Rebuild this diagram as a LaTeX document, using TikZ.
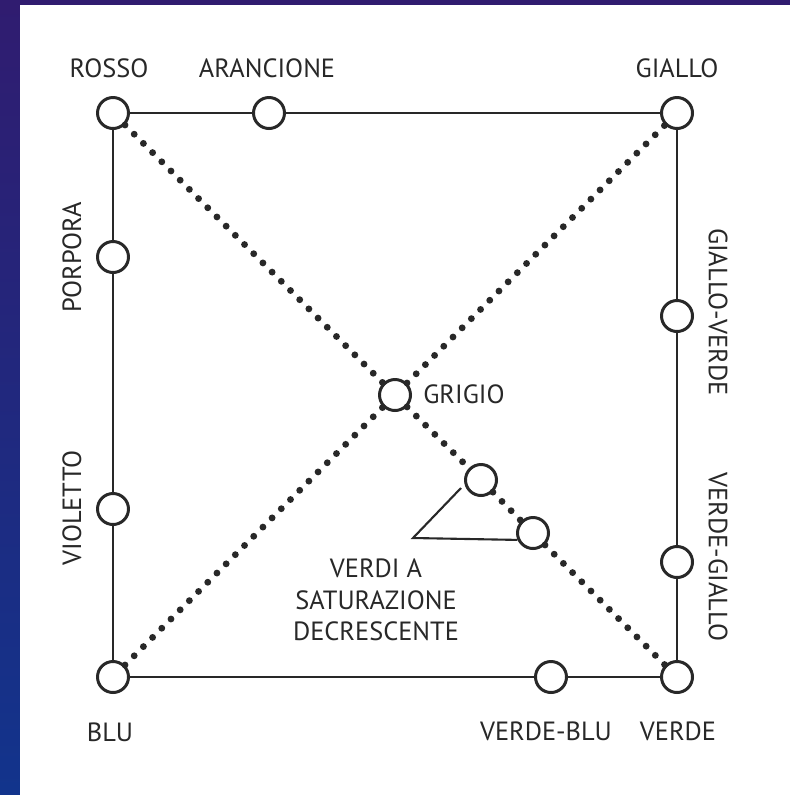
\documentclass[tikz,border=0pt]{standalone}
\usepackage{fontspec}
\setmainfont{PT Sans}
\usetikzlibrary{positioning,calc}
\definecolor{InkGray}{RGB}{40,40,40}
\definecolor{EdgePurple}{RGB}{48,28,112}
\definecolor{EdgeBlue}{RGB}{18,52,140}

\begin{document}
\begin{tikzpicture}[x=0.02cm, y=-0.02cm,
    hue/.style={circle, draw=InkGray, fill=white, line width=1.7pt,
                minimum size=0.62cm, inner sep=0pt},
    side/.style={draw=InkGray, line width=1.4pt},
    dotline/.style={draw=InkGray, line width=3.9pt, line cap=round,
                    dash pattern=on 0pt off 7.4pt},
    leader/.style={draw=InkGray, line width=1.2pt},
    lab/.style={text=InkGray, font=\fontsize{15}{18}\selectfont, inner sep=0pt},
    labrow/.style={lab, align=center, font=\fontsize{15}{18}\selectfont}
]
    % frame
    \shade[top color=EdgePurple, bottom color=EdgeBlue] (0,0) rectangle (790,795);
    \fill[white] (20,5) rectangle (790,795);

    % colour points
    \node[hue] (rosso) at (113,113) {};
    \node[hue] (arancione) at (269,113) {};
    \node[hue] (giallo) at (677,113) {};
    \node[hue] (porpora) at (113,257) {};
    \node[hue] (violetto) at (113,509) {};
    \node[hue] (gialloverde) at (677,316) {};
    \node[hue] (verdegiallo) at (677,562) {};
    \node[hue] (blu) at (113,677) {};
    \node[hue] (verdeblu) at (551,677) {};
    \node[hue] (verde) at (677,677) {};
    \node[hue] (grigio) at (395,395) {};
    \node[hue] (verdiA) at (481,480) {};
    \node[hue] (verdiB) at (533,533) {};

    % square sides
    \draw[side] (rosso) -- (arancione) -- (giallo);
    \draw[side] (giallo) -- (gialloverde) -- (verdegiallo) -- (verde);
    \draw[side] (blu) -- (verdeblu) -- (verde);
    \draw[side] (rosso) -- (porpora) -- (violetto) -- (blu);

    % diagonals
    \draw[dotline] (rosso) -- (grigio);
    \draw[dotline] (grigio) -- (verdiA);
    \draw[dotline] (verdiA) -- (verdiB);
    \draw[dotline] (verdiB) -- (verde);
    \draw[dotline] (blu) -- (grigio);
    \draw[dotline] (grigio) -- (giallo);

    % leader to the greens
    \coordinate (leadtop) at (461,488);
    \coordinate (leadknee) at (413,538);
    \draw[leader] (leadtop) -- (leadknee) -- (verdiB.204);

    % labels
    \node[lab] (lrosso) at (109,68) {ROSSO};
    \node[lab] (larancione) at (267,68) {ARANCIONE};
    \node[lab] (lgiallo) at (677,68) {GIALLO};
    \node[lab, rotate=90] (lporpora) at (72,257) {PORPORA};
    \node[lab, rotate=90] (lvioletto) at (72,508) {VIOLETTO};
    \node[lab, rotate=-90] (lgialloverde) at (718,312) {GIALLO-VERDE};
    \node[lab, rotate=-90] (lverdegiallo) at (718,557) {VERDE-GIALLO};
    \node[lab, anchor=west] (lgrigio) at (423,394) {GRIGIO};
    \node[lab] (lblu) at (110,732) {BLU};
    \node[lab] (lverdeblu) at (546,731) {VERDE-BLU};
    \node[lab] (lverde) at (678,731) {VERDE};
    \node[labrow] (lverdi) at (376,600) {VERDI A\\SATURAZIONE\\DECRESCENTE};
\end{tikzpicture}
\end{document}
